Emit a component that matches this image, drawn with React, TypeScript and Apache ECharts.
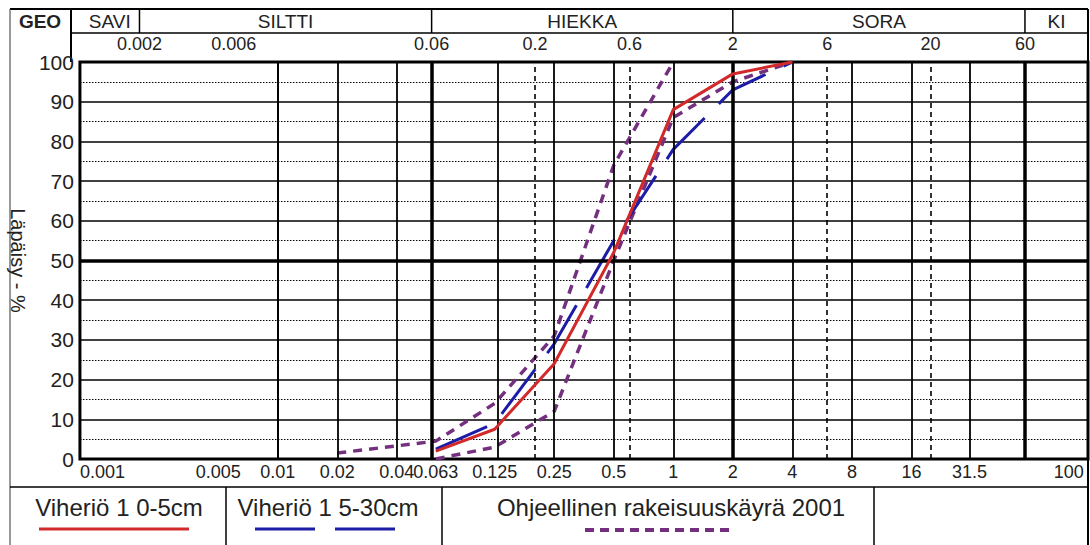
import { useEffect, useRef } from 'react';
import * as echarts from 'echarts';

// Grain size (mm) tick labels along the bottom and top edges
const bottomTicks = [0.001, 0.005, 0.01, 0.02, 0.04, 0.063, 0.125, 0.25, 0.5, 1, 2, 4, 8, 16, 31.5, 100];
const topTicks = [0.002, 0.006, 0.06, 0.2, 0.6, 2, 6, 20, 60];

// Soil classes (GEO) and their boundaries in mm
const classNames = ['SAVI', 'SILTTI', 'HIEKKA', 'SORA', 'KI'];
const classBounds = [0.001, 0.002, 0.06, 2, 60, 125];

// Vertical grid lines
const boundaryLines = [0.002, 0.06, 2, 60];
const dashedLines = [0.006, 0.2, 0.6, 6, 20];
const sieveLines = [0.005, 0.01, 0.02, 0.04, 0.063, 0.125, 0.25, 0.5, 1, 4, 8, 16, 31.5];

// Sieve sizes (mm) and passing percentages
const sieveSizes = [0.063, 0.125, 0.25, 0.5, 1, 2, 4];
const passing0to5 = [2, 7.5, 24, 52, 88, 97, 100];
const passing5to30 = [2.5, 9, 29, 55, 78, 93, 100];

// Guideline grading envelope 2001
const upperSizes = [0.02, 0.063, 0.125, 0.25, 0.5, 1];
const upperLimit = [1.5, 4.5, 14, 31, 74, 100];
const lowerSizes = [0.063, 0.125, 0.25, 0.5, 1, 2, 4];
const lowerLimit = [0, 3, 12, 50, 86, 95, 100];

const legendNames = ['Viheriö 1 0-5cm', 'Viheriö 1 5-30cm', 'Ohjeellinen rakeisuuskäyrä 2001'];

const RED = '#d22a2a';
const BLUE = '#1c1ca6';
const PURPLE = '#74307f';
const TEXT = '#222';
const FONT = '"Liberation Sans", Arial, sans-serif';

const pair = (xs: number[], ys: number[]) => xs.map((x, i) => [x, ys[i]]);

const fmt = (ticks: number[]) => (v: number) => {
  let best = ticks[0];
  for (const t of ticks) {
    if (Math.abs(Math.log(t / v)) < Math.abs(Math.log(best / v))) best = t;
  }
  return String(best);
};

export default function App() {
  const ref = useRef<HTMLDivElement>(null);

  useEffect(() => {
    const chart = echarts.init(ref.current!, null, { renderer: 'svg' });

    const vLine = (v: number, width: number, type: any) => ({
      xAxis: v,
      lineStyle: { color: '#000', width, type },
    });

    const xAxisBase = {
      type: 'log',
      min: 0.001,
      max: 125,
      axisLine: { show: false },
      axisTick: { show: false },
      splitLine: { show: false },
    };

    chart.setOption({
      animation: false,
      backgroundColor: '#fff',
      textStyle: { fontFamily: FONT },
      grid: {
        left: 72,
        right: 2,
        top: 62,
        bottom: 86,
        show: true,
        borderColor: '#000',
        borderWidth: 3,
        backgroundColor: 'transparent',
      },
      xAxis: [
        {
          ...xAxisBase,
          position: 'bottom',
          axisLabel: {
            customValues: bottomTicks,
            formatter: fmt(bottomTicks),
            fontSize: 18,
            color: TEXT,
            margin: 4,
            alignMinLabel: 'left',
            showMinLabel: true,
            showMaxLabel: true,
          },
        },
        {
          ...xAxisBase,
          position: 'top',
          axisLabel: {
            customValues: topTicks,
            formatter: fmt(topTicks),
            fontSize: 18,
            color: TEXT,
            margin: 9,
          },
        },
      ],
      yAxis: {
        type: 'value',
        min: 0,
        max: 100,
        interval: 10,
        axisLine: { show: false },
        axisTick: { show: false },
        axisLabel: { fontSize: 21, color: TEXT, margin: 6 },
        splitLine: { lineStyle: { color: '#000', width: 1.6 } },
        minorTick: { show: false, splitNumber: 2 },
        minorSplitLine: { show: true, lineStyle: { color: '#000', width: 1.2, type: [1.5, 1.5] } },
        name: 'Läpäisy - %',
        nameLocation: 'middle',
        nameRotate: -90,
        nameGap: 46,
        nameTextStyle: { fontSize: 20, color: TEXT },
      },
      series: [
        {
          type: 'line',
          data: [],
          silent: true,
          z: 1,
          markLine: {
            silent: true,
            symbol: 'none',
            label: { show: false },
            data: [
              ...sieveLines.map((v) => vLine(v, 1.8, 'solid')),
              ...dashedLines.map((v) => vLine(v, 1.6, [5, 4])),
              ...boundaryLines.map((v) => vLine(v, 3.5, 'solid')),
              { yAxis: 50, lineStyle: { color: '#000', width: 3.5, type: 'solid' } },
            ],
          },
        },
        {
          name: legendNames[2],
          type: 'line',
          data: pair(upperSizes, upperLimit),
          showSymbol: false,
          z: 3,
          lineStyle: { color: PURPLE, width: 3.5, type: [9, 7] },
        },
        {
          name: legendNames[2],
          type: 'line',
          data: pair(lowerSizes, lowerLimit),
          showSymbol: false,
          z: 3,
          lineStyle: { color: PURPLE, width: 3.5, type: [9, 7] },
        },
        {
          name: legendNames[1],
          type: 'line',
          data: pair(sieveSizes, passing5to30),
          showSymbol: false,
          z: 4,
          lineStyle: { color: BLUE, width: 3, type: [56, 20] },
        },
        {
          name: legendNames[0],
          type: 'line',
          data: pair(sieveSizes, passing0to5),
          showSymbol: false,
          z: 5,
          lineStyle: { color: RED, width: 3, type: 'solid' },
        },
      ],
    });

    // Header table (soil classes) and legend table, laid out on the axis scale
    const px = (v: number) => chart.convertToPixel({ xAxisIndex: 0 }, v) as number;
    const line = (x1: number, y1: number, x2: number, y2: number, w = 1.5, color = '#000') => ({
      type: 'line',
      silent: true,
      shape: { x1, y1, x2, y2 },
      style: { stroke: color, lineWidth: w },
    });
    const text = (x: number, y: number, t: string, size: number, weight = 'normal') => ({
      type: 'text',
      silent: true,
      x,
      y,
      style: {
        text: t,
        fontSize: size,
        fontWeight: weight,
        fontFamily: FONT,
        fill: TEXT,
        align: 'center',
        verticalAlign: 'middle',
      },
    });

    const right = 1088;
    const headerTop = 9;
    const headerRow = 33;
    const legendTop = 487;
    const bottom = 545;

    const header: any[] = [
      line(10, headerTop, right, headerTop, 2),
      line(10, headerTop, 10, bottom, 1.2, '#555'),
      line(right, headerTop, right, bottom, 2),
      line(71, headerRow, right, headerRow, 1.5),
      line(71, headerTop, 71, 62, 2),
      text(40, 21, 'GEO', 19, 'bold'),
    ];
    classBounds.slice(1, -1).forEach((b) => {
      header.push(line(px(b), headerTop, px(b), headerRow, 1.5));
    });
    classNames.forEach((n, i) => {
      const cx = (px(classBounds[i]) + px(classBounds[i + 1])) / 2;
      header.push(text(cx, 21, n, 19));
    });

    const legendDividers = [226, 442, 874];
    const legend: any[] = [
      line(10, legendTop, right, legendTop, 1.5),
      ...legendDividers.map((x) => line(x, legendTop, x, bottom, 1.5)),
      text(119, 507, legendNames[0], 24),
      text(328, 507, legendNames[1], 24),
      text(671, 507, legendNames[2], 24),
      {
        type: 'line',
        silent: true,
        shape: { x1: 39, y1: 529, x2: 189, y2: 529 },
        style: { stroke: RED, lineWidth: 3 },
      },
      {
        type: 'line',
        silent: true,
        shape: { x1: 255, y1: 529, x2: 395, y2: 529 },
        style: { stroke: BLUE, lineWidth: 3, lineDash: [60, 20] },
      },
      {
        type: 'line',
        silent: true,
        shape: { x1: 585, y1: 530, x2: 735, y2: 530 },
        style: { stroke: PURPLE, lineWidth: 4, lineDash: [9, 6] },
      },
    ];

    chart.setOption({ graphic: [...header, ...legend] });

    return () => chart.dispose();
  }, []);

  return (
    <div
      ref={ref}
      style={{ position: 'absolute', left: 0, top: 0, width: 1090, height: 545 }}
    />
  );
}
